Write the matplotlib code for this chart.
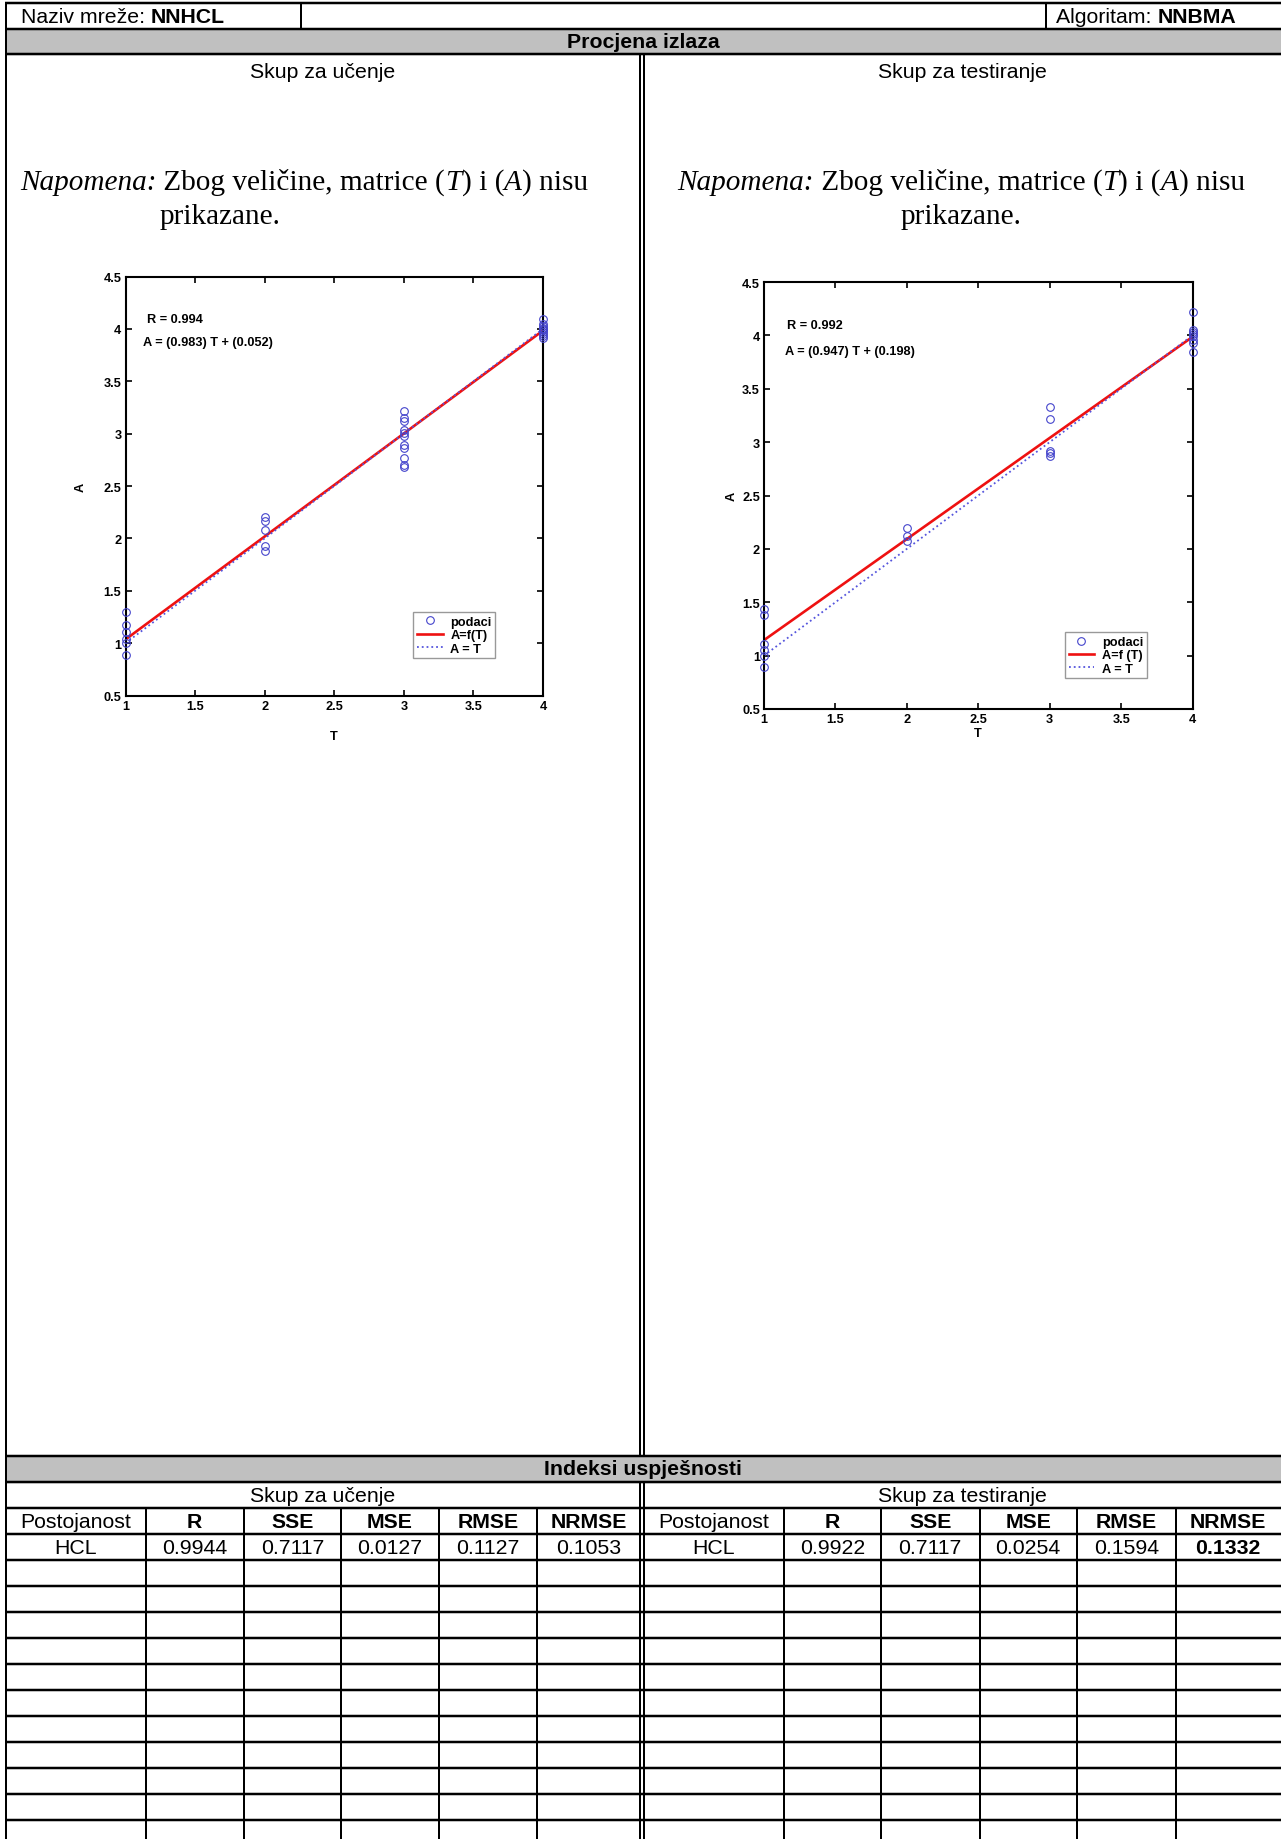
import matplotlib
matplotlib.use("Agg")
import matplotlib.pyplot as plt
import numpy as np

# ---- data ----
network_name = "NNHCL"
algorithm = "NNBMA"

T_range = [1, 4]
train_T = [1, 1, 1, 1, 1, 1,
           2, 2, 2, 2, 2,
           3, 3, 3, 3, 3, 3, 3, 3, 3, 3, 3,
           4, 4, 4, 4, 4, 4, 4, 4, 4, 4]
train_A = [1.30, 1.17, 1.11, 1.04, 1.00, 0.89,
           2.20, 2.17, 2.08, 1.93, 1.88,
           3.22, 3.15, 3.12, 3.03, 3.01, 2.98, 2.89, 2.86, 2.77, 2.70, 2.68,
           4.09, 4.05, 4.03, 4.01, 4.00, 3.99, 3.97, 3.95, 3.93, 3.91]
train_fit = (0.983, 0.052)
train_R = 0.994

test_T = [1, 1, 1, 1, 1, 1,
          2, 2, 2,
          3, 3, 3, 3, 3,
          4, 4, 4, 4, 4, 4, 4, 4]
test_A = [1.44, 1.38, 1.11, 1.05, 1.00, 0.89,
          2.20, 2.12, 2.07,
          3.33, 3.22, 2.92, 2.90, 2.87,
          4.22, 4.05, 4.03, 4.01, 3.99, 3.96, 3.93, 3.84]
test_fit = (0.947, 0.198)
test_R = 0.992

x_ticks = [1, 1.5, 2, 2.5, 3, 3.5, 4]
y_ticks = [0.5, 1, 1.5, 2, 2.5, 3, 3.5, 4, 4.5]

table_cols = ["Postojanost", "R", "SSE", "MSE", "RMSE", "NRMSE"]
train_row = ["HCL", "0.9944", "0.7117", "0.0127", "0.1127", "0.1053"]
test_row = ["HCL", "0.9922", "0.7117", "0.0254", "0.1594", "0.1332"]

# ---- layout (pixels) ----
W, H = 1281, 1840
SANS = "Liberation Sans"
SERIF = "Liberation Serif"
FS = 15.3
PFS = 9.2  # plot text size

fig = plt.figure(figsize=(W / 100, H / 100), dpi=100)
bg = fig.add_axes([0, 0, 1, 1])
bg.set_xlim(0, W)
bg.set_ylim(H, 0)
bg.axis("off")


def px(v):
    return v * 0.72


def hline(y, x0=5, x1=W, w=2.5):
    bg.plot([x0, x1], [y, y], color="black", lw=px(w), solid_capstyle="butt")


def vline(x, y0, y1, w=2.0):
    bg.plot([x, x], [y0, y1], color="black", lw=px(w), solid_capstyle="butt")


def rich(x, y, parts, size=FS, family=SANS):
    # parts: list of (text, weight, style)
    t = None
    for s, wgt, sty in parts:
        if t is None:
            t = bg.text(x, y, s, fontsize=size, family=family, fontweight=wgt,
                        fontstyle=sty, va="baseline", ha="left")
        else:
            t = bg.annotate(s, xy=(1, 0), xycoords=t, fontsize=size, family=family,
                            fontweight=wgt, fontstyle=sty, va="bottom", ha="left")
    return t


# header row
hline(3.5)
hline(30)
vline(6, 3, H)
vline(301, 3, 30)
vline(1046, 3, 30)
rich(21, 23, [("Naziv mreže: ", "normal", "normal"), (network_name, "bold", "normal")])
rich(1056, 23, [("Algoritam: ", "normal", "normal"), (algorithm, "bold", "normal")])

# gray title rows
bg.add_patch(plt.Rectangle((6, 30), W - 6, 25, color="#c0c0c0", zorder=0))
hline(55)
bg.text(643, 43, "Procjena izlaza", fontsize=FS, family=SANS, fontweight="bold",
        ha="center", va="center")

bg.add_patch(plt.Rectangle((6, 1457), W - 6, 26, color="#c0c0c0", zorder=0))
hline(1457)
hline(1483)
bg.text(643, 1470, "Indeksi uspješnosti", fontsize=FS, family=SANS, fontweight="bold",
        ha="center", va="center")

# middle double line
for xm in (639.5, 643.5):
    vline(xm, 55, 1457, w=2.0)
    vline(xm, 1483, H, w=2.0)

# upper section texts
bg.text(323, 73, "Skup za učenje", fontsize=FS, family=SANS, ha="center", va="center")
bg.text(962, 73, "Skup za testiranje", fontsize=FS, family=SANS, ha="center", va="center")

note = [("Napomena:", "normal", "italic"), (" Zbog veličine, matrice (", "normal", "normal"),
        ("T", "normal", "italic"), (") i (", "normal", "normal"),
        ("A", "normal", "italic"), (") nisu", "normal", "normal")]
rich(20, 190, note, size=21.1, family=SERIF)
rich(160, 224, [("prikazane.", "normal", "normal")], size=21.1, family=SERIF)
rich(677, 190, note, size=21.1, family=SERIF)
rich(901, 224, [("prikazane.", "normal", "normal")], size=21.1, family=SERIF)

# table
col_x = [6, 145.5, 244, 341.4, 438.7, 537.3, 639.5]
col_x2 = [643.5, 783.6, 881, 979.5, 1077, 1175.5, W]
for y in np.arange(1509, H, 26):
    hline(y)
for xs in (col_x[1:-1], col_x2[1:-1]):
    for xc in xs:
        vline(xc, 1509, H, w=2.0)

bg.text((col_x[0] + col_x[-1]) / 2, 1497, "Skup za učenje", fontsize=FS, family=SANS,
        ha="center", va="center")
bg.text((col_x2[0] + col_x2[-1]) / 2, 1497, "Skup za testiranje", fontsize=FS, family=SANS,
        ha="center", va="center")

for xs, row in ((col_x, train_row), (col_x2, test_row)):
    for i, name in enumerate(table_cols):
        cx = (xs[i] + xs[i + 1]) / 2
        bg.text(cx, 1523, name, fontsize=FS, family=SANS,
                fontweight="normal" if i == 0 else "bold", ha="center", va="center")
        bold = (row is test_row and i == 5)
        bg.text(cx, 1549, row[i], fontsize=FS, family=SANS,
                fontweight="bold" if bold else "normal", ha="center", va="center")


# ---- regression plots ----
def regplot(box, T, A, fit, R, fit_label, txt_pos, leg_pos):
    x0, y0, x1, y1 = box
    ax = fig.add_axes([x0 / W, 1 - y1 / H, (x1 - x0) / W, (y1 - y0) / H])
    tt = np.array(T_range, dtype=float)
    ax.plot(T, A, "o", mfc="none", mec="#4444cc", mew=0.8, ms=5.5, clip_on=False,
            label="podaci", zorder=3)
    ax.plot(tt, fit[0] * tt + fit[1], color="#ee1111", lw=1.9, label=fit_label, zorder=2)
    ax.plot(tt, tt, ls=":", color="#5555dd", lw=1.3, label="A = T", zorder=2)
    ax.set_xlim(1, 4)
    ax.set_ylim(0.5, 4.5)
    ax.set_xticks(x_ticks)
    ax.set_xticklabels([f"{v:g}" for v in x_ticks])
    ax.set_yticks(y_ticks)
    ax.set_yticklabels([f"{v:g}" for v in y_ticks])
    ax.tick_params(direction="in", top=True, right=True, length=4, width=1.2,
                   labelsize=PFS, pad=3)
    for lab in ax.get_xticklabels() + ax.get_yticklabels():
        lab.set_fontweight("bold")
        lab.set_family(SANS)
    for sp in ax.spines.values():
        sp.set_linewidth(1.5)
    ax.set_xlabel("T", fontsize=PFS, fontweight="bold", family=SANS)
    ax.set_ylabel("A", fontsize=PFS, fontweight="bold", family=SANS)
    (rx, ry), (ex, ey) = txt_pos
    ax.text(rx, ry, f"R = {R}", transform=ax.transAxes, fontsize=PFS,
            fontweight="bold", family=SANS, va="center")
    ax.text(ex, ey, f"A = ({fit[0]}) T + ({fit[1]})", transform=ax.transAxes,
            fontsize=PFS, fontweight="bold", family=SANS, va="center")
    leg = ax.legend(loc="upper left", bbox_to_anchor=leg_pos, borderaxespad=0,
                    fancybox=False, framealpha=1, edgecolor="#999999",
                    prop={"family": SANS, "weight": "bold", "size": PFS},
                    handlelength=2.0, labelspacing=0.1, borderpad=0.3,
                    handletextpad=0.6)
    leg.get_frame().set_linewidth(1.0)
    return ax


ax1 = regplot((125.5, 277.5, 543, 696.5), train_T, train_A, train_fit, train_R, "A=f(T)",
              ((0.051, 0.899), (0.042, 0.844)), (0.689, 0.199))
ax1.xaxis.labelpad = 13
ax1.yaxis.labelpad = 12

ax2 = regplot((764, 283, 1192.5, 710), test_T, test_A, test_fit, test_R, "A=f (T)",
              ((0.053, 0.90), (0.049, 0.838)), (0.702, 0.180))
ax2.xaxis.labelpad = 1
ax2.yaxis.labelpad = 3

fig.savefig("out.png", dpi=100)
